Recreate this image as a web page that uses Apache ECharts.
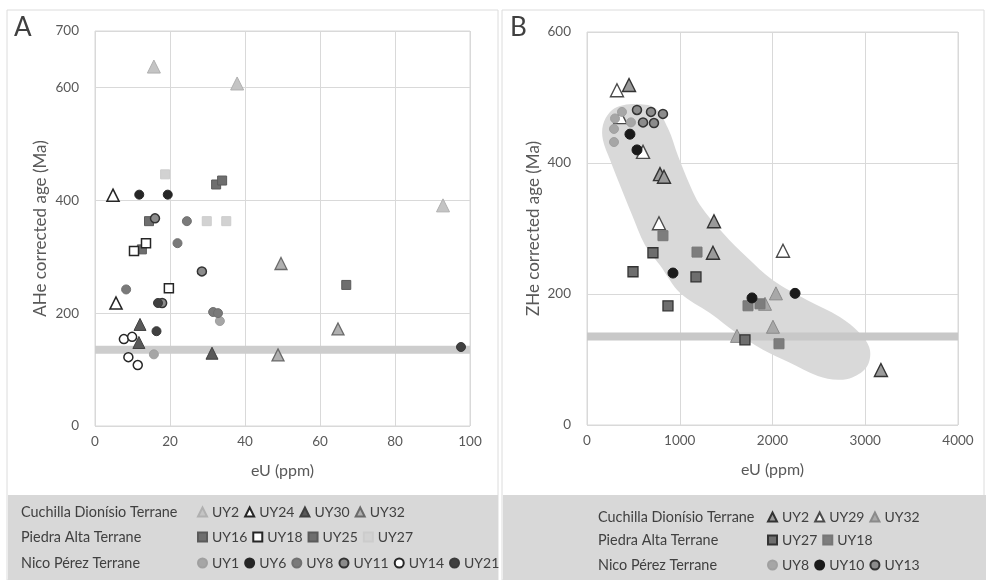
<!DOCTYPE html>
<html><head><meta charset="utf-8">
<script src="https://cdn.jsdelivr.net/npm/echarts@6/dist/echarts.min.js"></script>
<style>html,body{margin:0;padding:0;background:#fff}#c{width:986px;height:580px}</style>
</head><body><div id="c"></div>
<script>
// ---------- Panel A (AHe) ----------
const A_UY2  = [[15.7,637],[37.9,607],[92.8,391]];
const A_UY24 = [[4.8,409],[5.6,218]];
const A_UY30 = [[12,180],[11.7,148],[31.2,129]];
const A_UY32 = [[49.6,288],[64.8,172],[48.8,126]];
const A_UY16 = [[14.4,363],[12.5,313],[67,250]];
const A_UY18 = [[10.4,310],[13.6,324],[19.7,244]];
const A_UY25 = [[32.3,428],[33.9,435]];
const A_UY27 = [[18.7,446],[29.8,363],[35,363]];
const A_UY1  = [[15.7,127],[33.3,186]];
const A_UY6  = [[11.8,410],[19.4,410]];
const A_UY8  = [[8.3,242],[22,324],[24.5,363],[31.5,202],[32.8,200]];
const A_UY11 = [[16,368],[28.5,274],[17.9,218]];
const A_UY14 = [[7.7,154],[9.9,158],[8.9,122],[11.4,108]];
const A_UY21 = [[16.8,218],[16.4,168],[97.6,140]];
const A_band = [[0,135],[100,135]];

// ---------- Panel B (ZHe) ----------
const B_UY2  = [[453,519],[787,383],[830,379],[1369,311],[1358,263],[3169,84]];
const B_UY29 = [[323,511],[360,470],[604,417],[776,308],[2113,266]];
const B_UY32 = [[2037,201],[1919,185],[2005,150],[1617,136]];
const B_UY27 = [[711,263],[496,234],[1175,226],[873,182],[1703,130]];
const B_UY18 = [[819,289],[1186,264],[1736,182],[1865,185],[2070,124]];
const B_UY8  = [[377,478],[302,468],[474,462],[291,452],[291,432]];
const B_UY10 = [[463,444],[539,420],[927,232],[1779,194],[2243,201]];
const B_UY13 = [[539,481],[690,478],[819,475],[604,462],[722,461]];
const B_band = [[0,135],[4000,135]];
const B_blob = [[172,458],[248,478],[356,487],[517,490],[733,484],[873,453],[981,411],[1110,366],[1218,336],
  [1466,293],[1724,256],[2004,221],[2371,191],[2726,165],[2942,140],[3050,115],[3017,89],[2866,73],[2705,69],
  [2489,75],[2188,95],[1897,115],[1616,140],[1325,171],[1002,202],[787,244],[625,275],[485,321],[356,366],[248,405],[172,435]];

// ticks / labels
const A_xTicks = {min:0,max:100,interval:20};
const A_yTicks = {min:0,max:700,interval:200};
const B_xTicks = {min:0,max:4000,interval:1000};
const B_yTicks = {min:0,max:600,interval:200};
const rowLabels = ['Cuchilla Dionísio Terrane','Piedra Alta Terrane','Nico Pérez Terrane'];

const FONT = 'Lato, "Open Sans", sans-serif';
const TXT = '#595959';

function sc(name, data, symbol, size, fill, border, bw, gi, z){
  return {type:'scatter', name:name, data:data, xAxisIndex:gi, yAxisIndex:gi, symbol:symbol,
    symbolSize:size, z: z||5, itemStyle:{color:fill, borderColor:border, borderWidth:bw, opacity:1}};
}
const series = [
  {type:'custom', name:'blob', xAxisIndex:1, yAxisIndex:1, data:B_blob, silent:true, z:1,
   renderItem:function(params, api){
     if(params.dataIndex!==0) return null;
     const pts = B_blob.map(p=>api.coord(p));
     return {type:'polygon', shape:{points:pts, smooth:0.35}, style:{fill:'#d9d9d9'}};
   }},
  {type:'line', name:'bandA', data:A_band, xAxisIndex:0, yAxisIndex:0, symbol:'none', silent:true, z:2,
   lineStyle:{color:'#cdcdcd', width:8}},
  {type:'line', name:'bandB', data:B_band, xAxisIndex:1, yAxisIndex:1, symbol:'none', silent:true, z:2,
   lineStyle:{color:'#c8c8c8', width:8}},
  sc('A-UY2', A_UY2, 'triangle', 13, '#c4c4c4', '#b0b0b0', 1, 0),
  sc('A-UY24', A_UY24, 'triangle', 12, '#ffffff', '#262626', 1.6, 0),
  sc('A-UY30', A_UY30, 'triangle', 12, '#595959', '#404040', 1, 0),
  sc('A-UY32', A_UY32, 'triangle', 12, '#b0b0b0', '#6a6a6a', 1.3, 0),
  sc('A-UY16', A_UY16, 'rect', 9, '#6e6e6e', '#5a5a5a', 1, 0),
  sc('A-UY18', A_UY18, 'rect', 9, '#ffffff', '#262626', 1.5, 0),
  sc('A-UY25', A_UY25, 'rect', 9, '#6e6e6e', '#5a5a5a', 1, 0),
  sc('A-UY27', A_UY27, 'rect', 9, '#d2d2d2', '#cccccc', 1, 0),
  sc('A-UY1', A_UY1, 'circle', 9, '#a6a6a6', '#a0a0a0', 1, 0),
  sc('A-UY6', A_UY6, 'circle', 9, '#262626', '#262626', 1, 0),
  sc('A-UY8', A_UY8, 'circle', 9, '#7a7a7a', '#707070', 1, 0),
  sc('A-UY11', A_UY11, 'circle', 9, '#8c8c8c', '#333333', 1.5, 0),
  sc('A-UY14', A_UY14, 'circle', 9, '#ffffff', '#262626', 1.5, 0),
  sc('A-UY21', A_UY21, 'circle', 9, '#404040', '#3a3a3a', 1, 0),
  sc('B-UY2', B_UY2, 'triangle', 13, '#9a9a9a', '#333333', 1.4, 1),
  sc('B-UY29', B_UY29, 'triangle', 13, '#ffffff', '#4a4a4a', 1.4, 1),
  sc('B-UY32', B_UY32, 'triangle', 13, '#a8a8a8', '#8a8a8a', 1, 1),
  sc('B-UY27', B_UY27, 'rect', 10, '#6e6e6e', '#333333', 1.3, 1),
  sc('B-UY18', B_UY18, 'rect', 10, '#7d7d7d', '#777777', 1, 1),
  sc('B-UY8', B_UY8, 'circle', 9, '#a6a6a6', '#a0a0a0', 1, 1),
  sc('B-UY10', B_UY10, 'circle', 10, '#1a1a1a', '#1a1a1a', 1, 1),
  sc('B-UY13', B_UY13, 'circle', 9, '#8c8c8c', '#333333', 1.5, 1)
];

function legendRow(names, left, top){
  return {data:names, left:left, top:top, orient:'horizontal', itemWidth:9, itemHeight:9, itemGap:5,
    selectedMode:false, padding:0, formatter:n=>n.split('-')[1],
    textStyle:{fontFamily:FONT, fontSize:14, color:'#404040'}};
}
const legendA = [
  legendRow(['A-UY2','A-UY24','A-UY30','A-UY32'], 197, 505),
  legendRow(['A-UY16','A-UY18','A-UY25','A-UY27'], 197, 530),
  legendRow(['A-UY1','A-UY6','A-UY8','A-UY11','A-UY14','A-UY21'], 197, 556)
];
const legendB = [
  legendRow(['B-UY2','B-UY29','B-UY32'], 767, 510),
  legendRow(['B-UY27','B-UY18'], 767, 533),
  legendRow(['B-UY8','B-UY10','B-UY13'], 767, 558)
];

function xAx(t, gi){
  return Object.assign({type:'value', gridIndex:gi, name:'eU (ppm)', nameLocation:'middle', nameGap:37,
    nameTextStyle:{fontFamily:FONT, fontSize:16, color:TXT},
    axisLine:{show:false}, axisTick:{show:false},
    axisLabel:{fontFamily:FONT, fontSize:13.5, color:TXT, margin:9, formatter:v=>String(v)},
    splitLine:{show:true, lineStyle:{color:'#d9d9d9', width:1}}}, t);
}
function yAx(t, gi, name, gap){
  return Object.assign({type:'value', gridIndex:gi, name:name, nameLocation:'middle', nameGap:gap, nameRotate:90,
    nameTextStyle:{fontFamily:FONT, fontSize:17, color:TXT},
    axisLine:{show:false}, axisTick:{show:false},
    axisLabel:{fontFamily:FONT, fontSize:13.5, color:TXT, margin:16, formatter:v=>String(v)},
    splitLine:{show:true, lineStyle:{color:'#d9d9d9', width:1}}}, t);
}

const rowGraphics = [];
const rowYA = [514, 539, 565], rowYB = [519, 542, 567];
rowLabels.forEach((t,i)=>{
  rowGraphics.push({type:'text', left:21, top:rowYA[i]-9, style:{text:t, font:'14.4px '+FONT, fill:'#404040'}, z:10});
  rowGraphics.push({type:'text', left:598, top:rowYB[i]-9, style:{text:t, font:'14.4px '+FONT, fill:'#404040'}, z:10});
});

const option = {
  backgroundColor:'#ffffff',
  animation:false,
  grid:[
    {left:95, top:31, width:375, height:395, show:true, borderColor:'#d9d9d9', borderWidth:1, backgroundColor:'transparent'},
    {left:587, top:32, width:371, height:393, show:true, borderColor:'#d9d9d9', borderWidth:1, backgroundColor:'transparent'}
  ],
  xAxis:[xAx(A_xTicks,0), xAx(B_xTicks,1)],
  yAxis:[yAx(A_yTicks,0,'AHe corrected age (Ma)',46), yAx(B_yTicks,1,'ZHe corrected age (Ma)',45)],
  legend: legendA.concat(legendB),
  graphic:[
    {type:'rect', shape:{x:7,y:10,width:491,height:570}, style:{fill:'#ffffff', stroke:'#dcdcdc', lineWidth:1}, z:-10, silent:true},
    {type:'rect', shape:{x:502,y:10,width:482,height:570}, style:{fill:'#ffffff', stroke:'#dcdcdc', lineWidth:1}, z:-10, silent:true},
    {type:'rect', shape:{x:8,y:495,width:490,height:85}, style:{fill:'#d8d8d8'}, z:-9, silent:true},
    {type:'rect', shape:{x:503,y:495,width:483,height:85}, style:{fill:'#d8d8d8'}, z:-9, silent:true},
    {type:'text', left:14, top:15, style:{text:'A', font:'26px '+FONT, fill:'#404040'}, z:10},
    {type:'text', left:510, top:15, style:{text:'B', font:'26px '+FONT, fill:'#404040'}, z:10}
  ].concat(rowGraphics),
  series: series
};
const chart = echarts.init(document.getElementById('c'), null, {renderer:'canvas'});
chart.setOption(option);
</script></body></html>
